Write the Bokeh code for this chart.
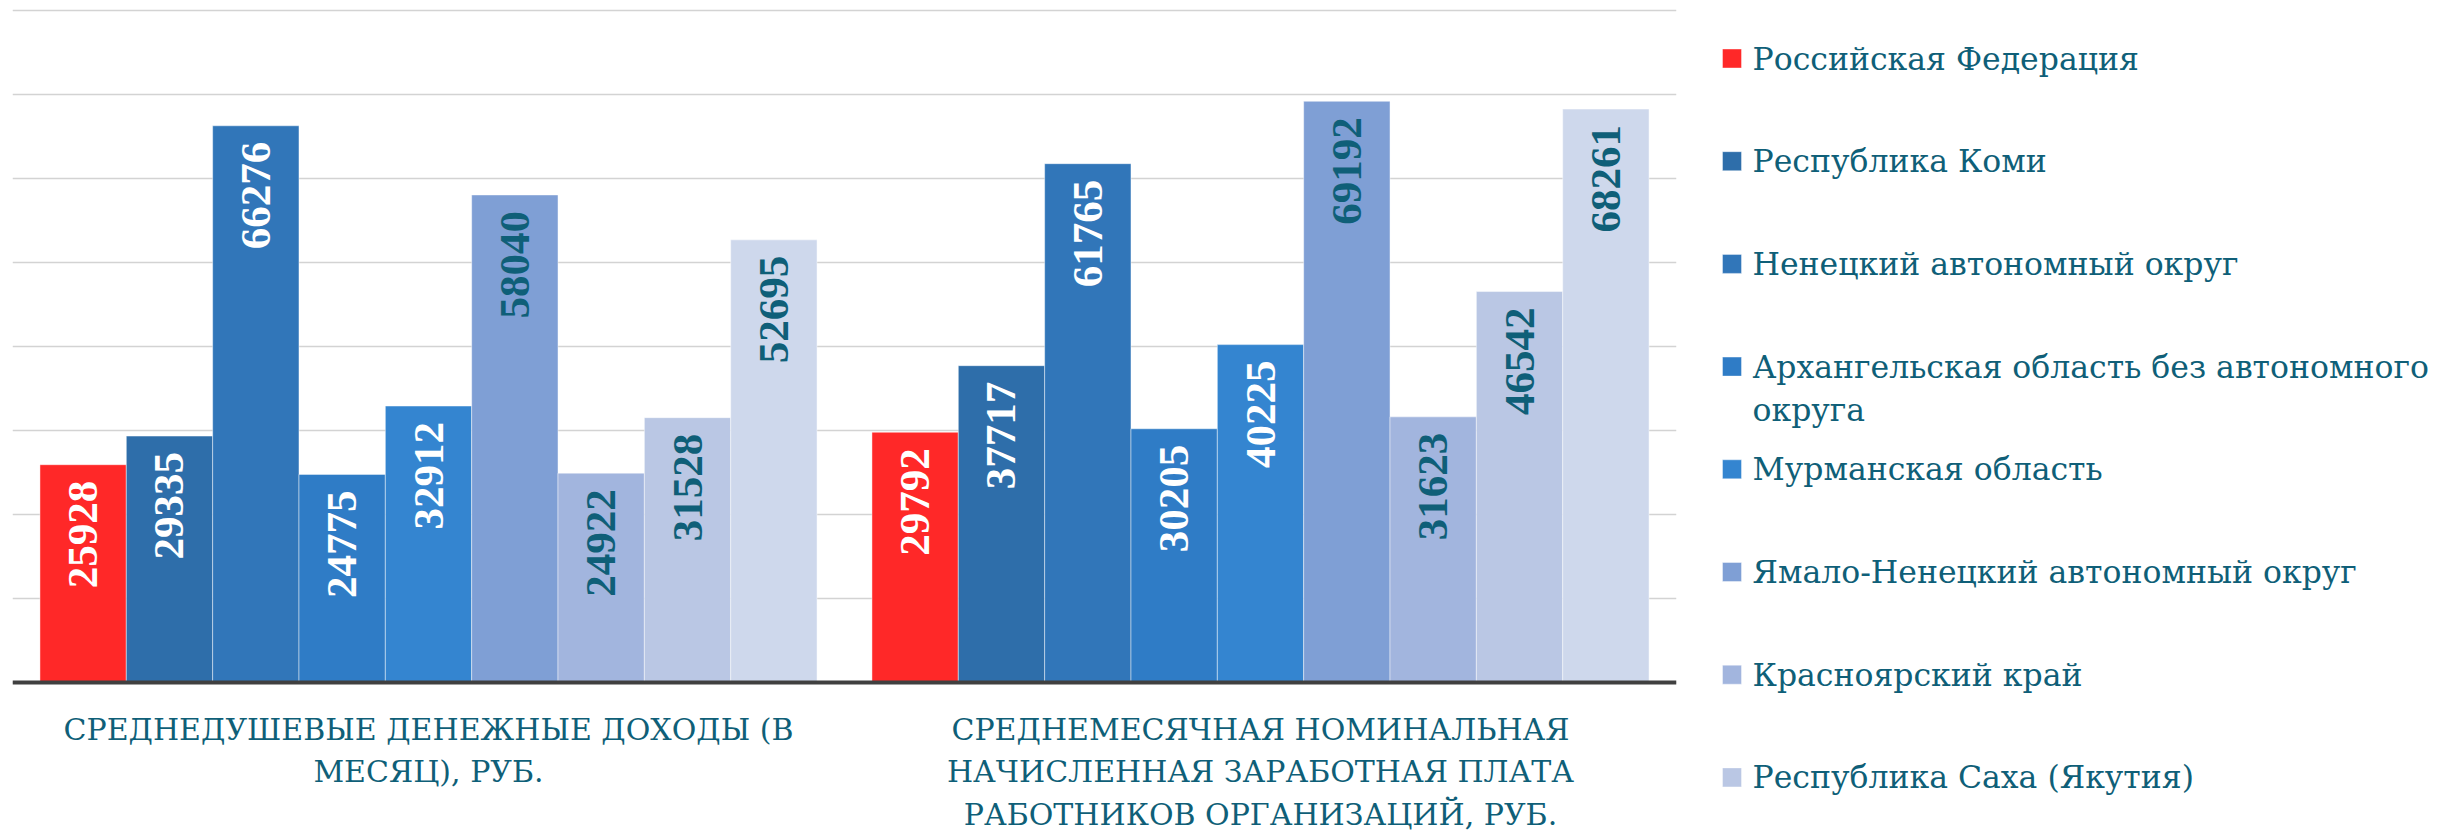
import math
from bokeh.plotting import figure
from bokeh.models import FactorRange, Range1d, ColumnDataSource, Span, FixedTicker
from bokeh.transform import dodge
from bokeh.layouts import row
from bokeh.core.properties import value
from bokeh.embed import file_html
from bokeh.resources import INLINE

# ---------------- data ----------------
categories = [
    "СРЕДНЕДУШЕВЫЕ ДЕНЕЖНЫЕ ДОХОДЫ (В\nМЕСЯЦ), РУБ.",
    "СРЕДНЕМЕСЯЧНАЯ НОМИНАЛЬНАЯ\nНАЧИСЛЕННАЯ ЗАРАБОТНАЯ ПЛАТА\nРАБОТНИКОВ ОРГАНИЗАЦИЙ, РУБ.",
]
series_names = [
    "Российская Федерация",
    "Республика Коми",
    "Ненецкий автономный округ",
    "Архангельская область без автономного\nокруга",
    "Мурманская область",
    "Ямало-Ненецкий автономный округ",
    "Красноярский край",
    "Республика Саха (Якутия)",
    "",  # ninth series: its legend entry is cut off in the original
]
russia = [25928, 29792]
komi = [29335, 37717]
nenets = [66276, 61765]
arkhangelsk = [24775, 30205]
murmansk = [32912, 40225]
yamal = [58040, 69192]
krasnoyarsk = [24922, 31623]
sakha = [31528, 46542]
ninth = [52695, 68261]
series_values = [russia, komi, nenets, arkhangelsk, murmansk, yamal, krasnoyarsk, sakha, ninth]
grid_ticks = [0, 10000, 20000, 30000, 40000, 50000, 60000, 70000, 80000]

# ---------------- styles ----------------
bar_colors = ["#FF2828", "#2E6EAA", "#3176B9", "#2F7CC6", "#3485D0",
              "#7F9FD5", "#A2B5DE", "#BAC7E4", "#CED8EC"]
TEAL = "#0F5F78"
label_colors = ["white"] * 5 + [TEAL] * 4
TEXT_FONT = "DejaVu Serif"
NUM_FONT = "Liberation Serif"

H = 834
TOP_PAD = 10          # px above the 80000 gridline
BASE_Y = 682          # px of the zero line
PX = max(grid_ticks) / (BASE_Y - TOP_PAD)   # data units per pixel

p = figure(
    width=1700, height=H,
    x_range=FactorRange(*categories, range_padding=0, factor_padding=0),
    y_range=Range1d(-(H - BASE_Y) * PX, max(grid_ticks) + TOP_PAD * PX),
    toolbar_location=None, output_backend="svg",
    min_border_left=12, min_border_right=24, min_border_top=0, min_border_bottom=0,
)
p.outline_line_color = None
p.background_fill_color = "white"
p.border_fill_color = "white"
p.xaxis.visible = False
p.yaxis.visible = False
p.xgrid.grid_line_color = None
p.ygrid.ticker = FixedTicker(ticks=grid_ticks)
p.ygrid.grid_line_color = "#D3D3D3"
p.ygrid.grid_line_width = 1.5

n = len(series_values)
group_frac = 0.934
bw = group_frac / n

for i, (vals, col, lcol) in enumerate(zip(series_values, bar_colors, label_colors)):
    off = (i - (n - 1) / 2) * bw
    src = ColumnDataSource(dict(cat=categories, v=vals, lbl=[str(v) for v in vals]))
    p.vbar(x=dodge("cat", off, range=p.x_range), top="v", bottom=0, width=bw, source=src,
           fill_color=col, line_color="white", line_alpha=0.45, line_width=1)
    p.text(x=dodge("cat", off, range=p.x_range), y="v", text="lbl", source=src,
           angle=math.pi / 2, text_align="right", text_baseline="middle",
           y_offset=16, text_font=value(NUM_FONT), text_font_style="bold",
           text_font_size="43px", text_color=lcol)

# zero line (axis line)
p.add_layout(Span(location=0, dimension="width", line_color="#404040", line_width=4))

# category labels under the zero line
p.text(x=categories, y=[-29 * PX] * len(categories), text=categories,
       text_align="center", text_baseline="top", text_font=value(TEXT_FONT),
       text_font_size="30px", text_color=TEAL, text_line_height=1.22)

# ---------------- legend panel ----------------
LX0, LX1 = 1700, 2446
leg = figure(width=LX1 - LX0, height=H, x_range=Range1d(LX0, LX1), y_range=Range1d(H, 0),
             toolbar_location=None, output_backend="svg",
             min_border_left=0, min_border_right=0, min_border_top=0, min_border_bottom=0)
leg.xaxis.visible = False
leg.yaxis.visible = False
leg.grid.visible = False
leg.outline_line_color = None
leg.background_fill_color = "white"
leg.border_fill_color = "white"

names = [nm for nm in series_names if nm]
cols = [c for nm, c in zip(series_names, bar_colors) if nm]
step = 102.7
line_sp = 44
ys = [58 + j * step for j in range(len(names))]
ty = [y + nm.count("\n") * line_sp / 2 for y, nm in zip(ys, names)]
leg.rect(x=[1731.5] * len(names), y=ys, width=19, height=19,
         fill_color=cols, line_color="white", line_alpha=0.4)
leg.text(x=[1752] * len(names), y=ty, text=names, text_baseline="middle",
         text_align="left", text_font=value(TEXT_FONT), text_font_size="31.5px",
         text_color=TEAL, text_line_height=1.2)

layout = row(p, leg)
open("out.html", "w").write(file_html(layout, INLINE))
